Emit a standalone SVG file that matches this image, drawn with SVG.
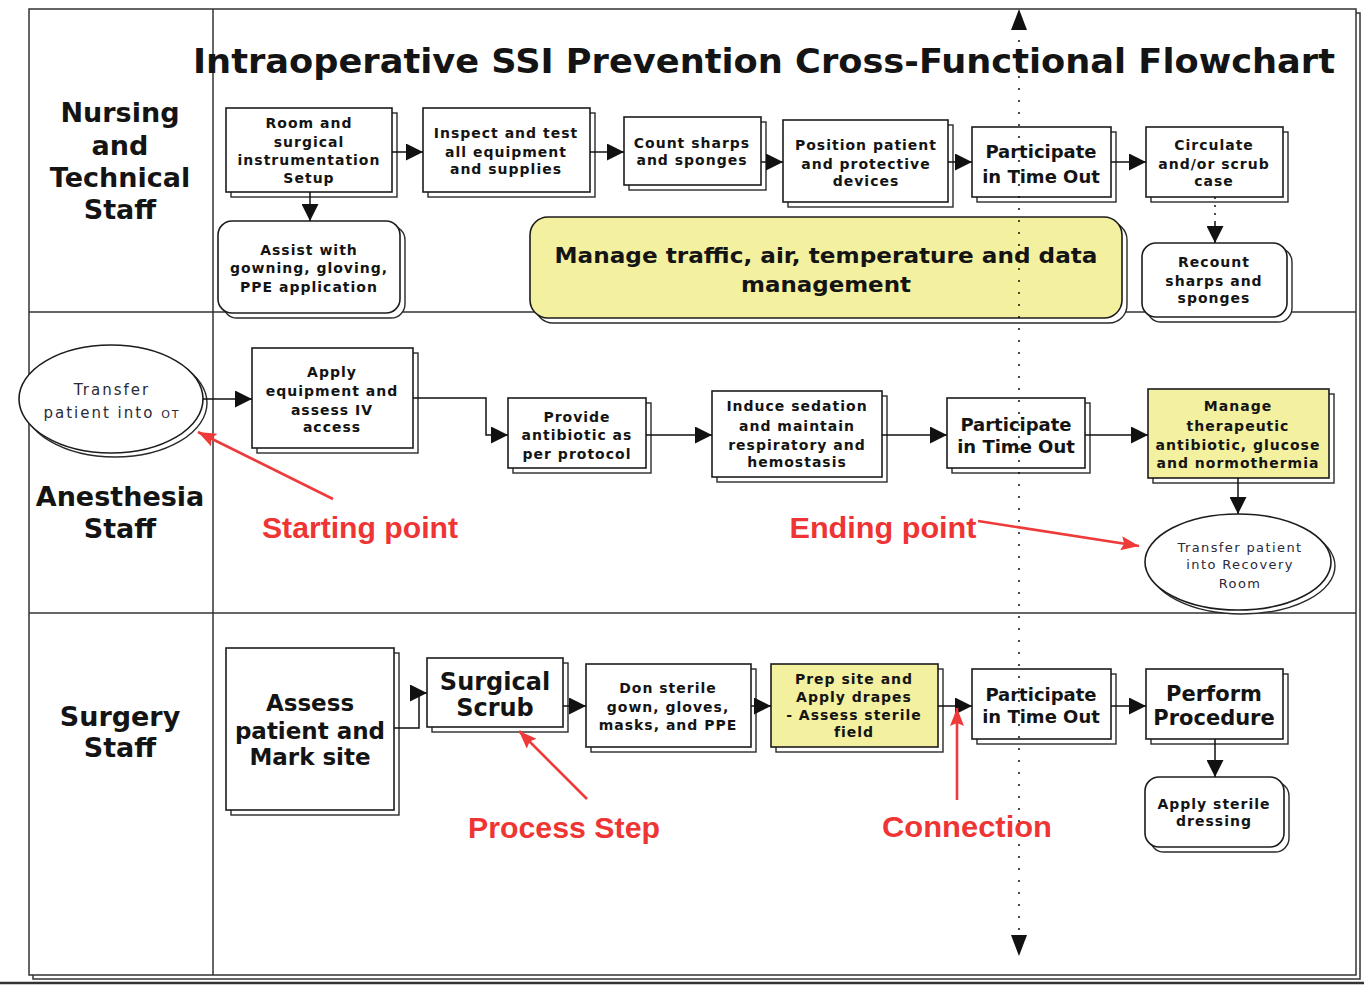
<svg xmlns="http://www.w3.org/2000/svg" width="1364" height="985" viewBox="0 0 1364 985">
  <defs>
    <style>
      .frame { fill: none; stroke: #333; stroke-width: 1.5; }
      .box { fill: #fff; stroke: #1c1c1c; stroke-width: 1.6; }
      .shadow { fill: #fff; stroke: #2a2a2a; stroke-width: 1.4; }
      .yel { fill: #f3f0a0; }
      .wire { fill: none; stroke: #111; stroke-width: 1.5; }
      .dots { fill: none; stroke: #111; stroke-width: 1.5; stroke-dasharray: 2 10; }
      .redline { fill: none; stroke: #ef3a3a; stroke-width: 2.6; }
      text { font-family: "DejaVu Sans", Verdana, sans-serif; fill: #141414; text-anchor: middle; }
      .s { font-size: 14px; font-weight: bold; letter-spacing: 1px; }
      .m { font-size: 18px; font-weight: bold; }
      .lane { font-size: 27px; font-weight: bold; }
      .reg { font-size: 15px; letter-spacing: 2px; fill: #2a2a3a; }
      .reg2 { font-size: 13px; letter-spacing: 1.4px; fill: #2a2a3a; }
      .red { font-family: "Liberation Sans", Arial, sans-serif; font-size: 30px; font-weight: bold; fill: #ef3434; }
    </style>
    <marker id="ah" markerUnits="userSpaceOnUse" markerWidth="17" markerHeight="17" viewBox="0 0 17 17" refX="17" refY="8.5" orient="auto">
      <path d="M0,0 L17,8.5 L0,17 z" fill="#111"/>
    </marker>
    <marker id="ahr" markerUnits="userSpaceOnUse" markerWidth="18" markerHeight="14" viewBox="0 0 18 14" refX="18" refY="7" orient="auto">
      <path d="M0,0 L18,7 L0,14 L3,7 z" fill="#ef3a3a"/>
    </marker>
  </defs>

  <rect width="1364" height="985" fill="#fff"/>

  <!-- swimlane frame -->
  <g id="lanes">
    <rect class="frame" x="33" y="13" width="1327" height="966"/>
    <rect x="29" y="9" width="1327" height="966" fill="#fff" stroke="#333" stroke-width="1.5"/>
    <line class="frame" x1="213" y1="9" x2="213" y2="975"/>
    <line class="frame" x1="29" y1="312" x2="1356" y2="312"/>
    <line class="frame" x1="29" y1="613" x2="1356" y2="613"/>
    <line x1="0" y1="983" x2="1364" y2="983" stroke="#333" stroke-width="2.5"/>
    <text x="764" y="73" font-size="33" font-weight="bold" textLength="1142" lengthAdjust="spacingAndGlyphs" fill="#111">Intraoperative SSI Prevention Cross-Functional Flowchart</text>
    <text class="lane" x="120" y="122">Nursing</text>
    <text class="lane" x="120" y="155">and</text>
    <text class="lane" x="120" y="187">Technical</text>
    <text class="lane" x="120" y="219">Staff</text>
    <text class="lane" x="120" y="506">Anesthesia</text>
    <text class="lane" x="120" y="538">Staff</text>
    <text class="lane" x="120" y="726">Surgery</text>
    <text class="lane" x="120" y="757">Staff</text>
  </g>

  <!-- Nursing and Technical Staff -->
  <g id="room-setup">
    <rect class="shadow" x="231" y="113" width="166" height="84"/>
    <rect class="box" x="226" y="108" width="166" height="84"/>
    <text class="s" x="309" y="128">Room and</text>
    <text class="s" x="309" y="147">surgical</text>
    <text class="s" x="309" y="165">instrumentation</text>
    <text class="s" x="309" y="183">Setup</text>
  </g>
  <g id="inspect-equipment">
    <rect class="shadow" x="428" y="113" width="167" height="84"/>
    <rect class="box" x="423" y="108" width="167" height="84"/>
    <text class="s" x="506" y="138">Inspect and test</text>
    <text class="s" x="506" y="157">all equipment</text>
    <text class="s" x="506" y="174">and supplies</text>
  </g>
  <g id="count-sharps">
    <rect class="shadow" x="629" y="122" width="137" height="68"/>
    <rect class="box" x="624" y="117" width="137" height="68"/>
    <text class="s" x="692" y="148">Count sharps</text>
    <text class="s" x="692" y="165">and sponges</text>
  </g>
  <g id="position-patient">
    <rect class="shadow" x="788" y="125" width="165" height="82"/>
    <rect class="box" x="783" y="120" width="165" height="82"/>
    <text class="s" x="866" y="150">Position patient</text>
    <text class="s" x="866" y="169">and protective</text>
    <text class="s" x="866" y="186">devices</text>
  </g>
  <g id="timeout-nursing">
    <rect class="shadow" x="977" y="132" width="139" height="70"/>
    <rect class="box" x="972" y="127" width="139" height="70"/>
    <text class="m" x="1041" y="158">Participate</text>
    <text class="m" x="1041" y="183">in Time Out</text>
  </g>
  <g id="circulate">
    <rect class="shadow" x="1151" y="132" width="137" height="70"/>
    <rect class="box" x="1146" y="127" width="137" height="70"/>
    <text class="s" x="1214" y="150">Circulate</text>
    <text class="s" x="1214" y="169">and/or scrub</text>
    <text class="s" x="1214" y="186">case</text>
  </g>
  <g id="assist-gowning">
    <rect class="shadow" x="223" y="226" width="182" height="92" rx="14"/>
    <rect class="box" x="218" y="221" width="182" height="92" rx="14"/>
    <text class="s" x="309" y="255">Assist with</text>
    <text class="s" x="309" y="273">gowning, gloving,</text>
    <text class="s" x="309" y="292">PPE application</text>
  </g>
  <g id="manage-traffic">
    <rect class="shadow" x="535" y="222" width="592" height="101" rx="18"/>
    <rect class="box yel" x="530" y="217" width="592" height="101" rx="18"/>
    <text x="826" y="263" font-size="22" font-weight="bold" textLength="543" lengthAdjust="spacingAndGlyphs">Manage traffic, air, temperature and data</text>
    <text x="826" y="292" font-size="22" font-weight="bold" textLength="170" lengthAdjust="spacingAndGlyphs">management</text>
  </g>
  <g id="recount">
    <rect class="shadow" x="1147" y="248" width="145" height="74" rx="14"/>
    <rect class="box" x="1142" y="243" width="145" height="74" rx="14"/>
    <text class="s" x="1214" y="267">Recount</text>
    <text class="s" x="1214" y="286">sharps and</text>
    <text class="s" x="1214" y="303">sponges</text>
  </g>

  <!-- Anesthesia Staff -->
  <g id="transfer-in">
    <ellipse class="shadow" cx="115" cy="403" rx="92" ry="54"/>
    <ellipse class="box" cx="111" cy="399" rx="92" ry="54"/>
    <text class="reg" x="112" y="395">Transfer</text>
    <text class="reg" x="112" y="418">patient into <tspan font-size="11">OT</tspan></text>
  </g>
  <g id="apply-equipment">
    <rect class="shadow" x="257" y="353" width="161" height="100"/>
    <rect class="box" x="252" y="348" width="161" height="100"/>
    <text class="s" x="332" y="377">Apply</text>
    <text class="s" x="332" y="396">equipment and</text>
    <text class="s" x="332" y="415">assess IV</text>
    <text class="s" x="332" y="432">access</text>
  </g>
  <g id="provide-antibiotic">
    <rect class="shadow" x="513" y="403" width="138" height="70"/>
    <rect class="box" x="508" y="398" width="138" height="70"/>
    <text class="s" x="577" y="422">Provide</text>
    <text class="s" x="577" y="440">antibiotic as</text>
    <text class="s" x="577" y="459">per protocol</text>
  </g>
  <g id="induce-sedation">
    <rect class="shadow" x="717" y="396" width="170" height="86"/>
    <rect class="box" x="712" y="391" width="170" height="86"/>
    <text class="s" x="797" y="411">Induce sedation</text>
    <text class="s" x="797" y="431">and maintain</text>
    <text class="s" x="797" y="450">respiratory and</text>
    <text class="s" x="797" y="467">hemostasis</text>
  </g>
  <g id="timeout-anesthesia">
    <rect class="shadow" x="952" y="403" width="138" height="70"/>
    <rect class="box" x="947" y="398" width="138" height="70"/>
    <text class="m" x="1016" y="431">Participate</text>
    <text class="m" x="1016" y="453">in Time Out</text>
  </g>
  <g id="manage-therapeutic">
    <rect class="shadow" x="1153" y="394" width="181" height="89"/>
    <rect class="box yel" x="1148" y="389" width="181" height="89"/>
    <text class="s" x="1238" y="411">Manage</text>
    <text class="s" x="1238" y="431">therapeutic</text>
    <text class="s" x="1238" y="450" letter-spacing="0.6">antibiotic, glucose</text>
    <text class="s" x="1238" y="468" letter-spacing="0.6">and normothermia</text>
  </g>
  <g id="transfer-recovery">
    <ellipse class="shadow" cx="1242" cy="566" rx="93" ry="48"/>
    <ellipse class="box" cx="1238" cy="562" rx="93" ry="48"/>
    <text class="reg2" x="1240" y="552">Transfer patient</text>
    <text class="reg2" x="1240" y="569">into Recovery</text>
    <text class="reg2" x="1240" y="588">Room</text>
  </g>

  <!-- Surgery Staff -->
  <g id="assess-patient">
    <rect class="shadow" x="231" y="653" width="168" height="162"/>
    <rect class="box" x="226" y="648" width="168" height="162"/>
    <text x="310" y="711" font-size="23" font-weight="bold">Assess</text>
    <text x="310" y="739" font-size="23" font-weight="bold">patient and</text>
    <text x="310" y="765" font-size="23" font-weight="bold">Mark site</text>
  </g>
  <g id="surgical-scrub">
    <rect class="shadow" x="432" y="663" width="136" height="69"/>
    <rect class="box" x="427" y="658" width="136" height="69"/>
    <text x="495" y="690" font-size="24" font-weight="bold">Surgical</text>
    <text x="495" y="716" font-size="24" font-weight="bold">Scrub</text>
  </g>
  <g id="don-sterile">
    <rect class="shadow" x="591" y="669" width="165" height="83"/>
    <rect class="box" x="586" y="664" width="165" height="83"/>
    <text class="s" x="668" y="693">Don sterile</text>
    <text class="s" x="668" y="712">gown, gloves,</text>
    <text class="s" x="668" y="730">masks, and PPE</text>
  </g>
  <g id="prep-site">
    <rect class="shadow" x="776" y="669" width="167" height="83"/>
    <rect class="box yel" x="771" y="664" width="167" height="83"/>
    <text class="s" x="854" y="684">Prep site and</text>
    <text class="s" x="854" y="702">Apply drapes</text>
    <text class="s" x="854" y="720">- Assess sterile</text>
    <text class="s" x="854" y="737">field</text>
  </g>
  <g id="timeout-surgery">
    <rect class="shadow" x="977" y="674" width="139" height="70"/>
    <rect class="box" x="972" y="669" width="139" height="70"/>
    <text class="m" x="1041" y="701">Participate</text>
    <text class="m" x="1041" y="723">in Time Out</text>
  </g>
  <g id="perform-procedure">
    <rect class="shadow" x="1151" y="674" width="137" height="70"/>
    <rect class="box" x="1146" y="669" width="137" height="70"/>
    <text x="1214" y="701" font-size="21" font-weight="bold">Perform</text>
    <text x="1214" y="725" font-size="21" font-weight="bold">Procedure</text>
  </g>
  <g id="apply-dressing">
    <rect class="shadow" x="1150" y="782" width="139" height="70" rx="14"/>
    <rect class="box" x="1145" y="777" width="139" height="70" rx="14"/>
    <text class="s" x="1214" y="809">Apply sterile</text>
    <text class="s" x="1214" y="826">dressing</text>
  </g>

  <!-- connectors -->
  <g id="connectors">
    <line class="dots" x1="1019" y1="28" x2="1019" y2="937"/>
    <path d="M1019,9 L1027,30 L1011,30 z" fill="#111"/>
    <path d="M1019,956 L1027,935 L1011,935 z" fill="#111"/>

    <path class="wire" d="M392,152 H423" marker-end="url(#ah)"/>
    <path class="wire" d="M590,152 H624" marker-end="url(#ah)"/>
    <path class="wire" d="M761,162 H783" marker-end="url(#ah)"/>
    <path class="wire" d="M948,162 H972" marker-end="url(#ah)"/>
    <path class="wire" d="M1111,162 H1146" marker-end="url(#ah)"/>
    <path class="wire" d="M310,192 V221" marker-end="url(#ah)"/>
    <path class="wire" d="M1215,197 V222" stroke-dasharray="2 6"/>
    <path class="wire" d="M1215,222 V243" marker-end="url(#ah)"/>

    <path class="wire" d="M203,399 H252" marker-end="url(#ah)"/>
    <path class="wire" d="M413,398 H486 V435 H508" marker-end="url(#ah)"/>
    <path class="wire" d="M646,435 H712" marker-end="url(#ah)"/>
    <path class="wire" d="M882,435 H947" marker-end="url(#ah)"/>
    <path class="wire" d="M1085,435 H1148" marker-end="url(#ah)"/>
    <path class="wire" d="M1238,478 V514" marker-end="url(#ah)"/>

    <path class="wire" d="M394,728 H419 V693 H427" marker-end="url(#ah)"/>
    <path class="wire" d="M563,706 H586" marker-end="url(#ah)"/>
    <path class="wire" d="M751,706 H771" marker-end="url(#ah)"/>
    <path class="wire" d="M938,706 H972" marker-end="url(#ah)"/>
    <path class="wire" d="M1111,706 H1146" marker-end="url(#ah)"/>
    <path class="wire" d="M1215,739 V777" marker-end="url(#ah)"/>
  </g>

  <!-- callouts -->
  <g id="callouts">
    <path class="redline" d="M333,499 L198,432" marker-end="url(#ahr)"/>
    <text class="red" x="360" y="538" textLength="196" lengthAdjust="spacingAndGlyphs">Starting point</text>
    <path class="redline" d="M978,521 L1139,546" marker-end="url(#ahr)"/>
    <text class="red" x="883" y="538" textLength="187" lengthAdjust="spacingAndGlyphs">Ending point</text>
    <path class="redline" d="M587,799 L519,731" marker-end="url(#ahr)"/>
    <text class="red" x="564" y="838" textLength="192" lengthAdjust="spacingAndGlyphs">Process Step</text>
    <path class="redline" d="M957,800 V708" marker-end="url(#ahr)"/>
    <text class="red" x="967" y="837" textLength="170" lengthAdjust="spacingAndGlyphs">Connection</text>
  </g>
</svg>
